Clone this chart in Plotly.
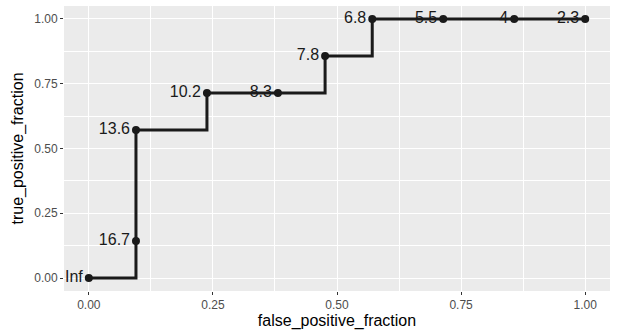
import plotly.graph_objects as go

fpf = [0.0, 0.095, 0.095, 0.238, 0.381, 0.476, 0.571, 0.714, 0.857, 1.0]
tpf = [0.0, 0.143, 0.571, 0.714, 0.714, 0.857, 1.0, 1.0, 1.0, 1.0]
cutoffs = ["Inf", "16.7", "13.6", "10.2", "8.3", "7.8", "6.8", "5.5", "4", "2.3"]
tick_vals = [0, 0.25, 0.5, 0.75, 1.0]
tick_text = ["0.00", "0.25", "0.50", "0.75", "1.00"]

FONT = "Liberation Sans, Arial"

fig = go.Figure()
fig.add_trace(go.Scatter(
    x=fpf, y=tpf, mode="lines+markers+text", text=cutoffs,
    textposition="middle left",
    textfont=dict(size=16, color="#1a1a1a", family=FONT),
    line=dict(shape="hv", color="#1a1a1a", width=3),
    marker=dict(size=8, color="#1a1a1a"),
    cliponaxis=False, showlegend=False, hoverinfo="skip",
))

axis_common = dict(
    showgrid=True, gridcolor="white", gridwidth=1.3,
    zeroline=False, ticks="outside", ticklen=3, tickcolor="#333333",
    tickfont=dict(size=12, color="#4D4D4D", family=FONT),
    tickvals=tick_vals, ticktext=tick_text,
    minor=dict(showgrid=True, gridcolor="white", gridwidth=0.6,
               tickvals=[0.125, 0.375, 0.625, 0.875], ticks=""),
    showline=False, automargin=False,
)
fig.update_xaxes(range=[-0.05, 1.05], title=dict(text="false_positive_fraction", standoff=2,
                 font=dict(size=16, color="#000", family=FONT)), **axis_common)
fig.update_yaxes(range=[-0.05, 1.05], title=dict(text="true_positive_fraction", standoff=6,
                 font=dict(size=16, color="#000", family=FONT)), **axis_common)

fig.update_layout(
    width=617, height=331,
    margin=dict(l=64, r=7, t=6, b=40),
    plot_bgcolor="#EBEBEB", paper_bgcolor="white",
)
fig.write_html("out.html", config={"displayModeBar": False},
               post_script="document.body.style.margin='0';")
